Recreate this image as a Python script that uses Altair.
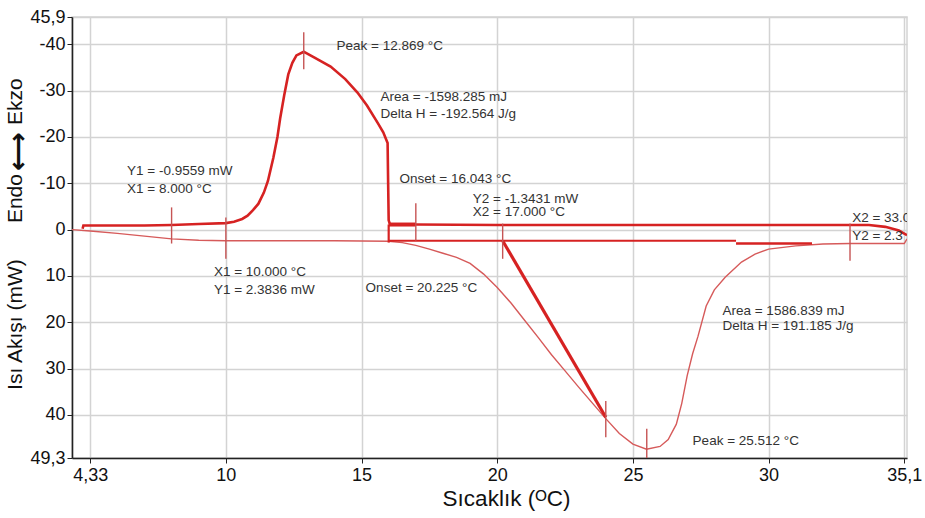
import altair as alt
import pandas as pd

FONT = "Liberation Sans, Arial, DejaVu Sans, sans-serif"

# ---- cooling run (thick curve) ----
cool_x = [35.1, 34.8, 34.3, 33.7, 30.0, 25.0, 20.0, 17.0, 16.05, 16.0, 15.98, 15.96,
          15.8, 15.6, 15.2, 14.85, 14.4, 13.86, 13.3, 13.0, 12.87, 12.6, 12.45, 12.3,
          12.15, 12.0, 11.9, 11.75, 11.55, 11.4, 11.2, 11.0, 10.8, 10.6, 10.3, 10.0,
          9.0, 8.0, 7.0, 6.0, 5.0, 4.75, 4.72]
cool_y = [1.2, 0.2, -0.6, -1.0, -1.0, -1.0, -1.0, -1.1, -1.1, -2.0, -10.0, -18.7,
          -21.0, -23.0, -26.8, -29.6, -32.5, -35.2, -37.0, -38.0, -38.4, -37.6, -36.0, -33.5,
          -29.0, -24.0, -20.0, -15.5, -10.5, -8.0, -5.6, -4.2, -3.0, -2.3, -1.7, -1.4,
          -1.2, -1.0, -0.9, -0.9, -0.9, -0.9, -0.2]

# ---- heating run (thin curve) ----
heat_x = [4.33, 5.0, 6.0, 7.0, 8.0, 9.0, 10.0, 12.0, 14.0, 16.0, 16.5, 17.0, 17.5, 18.0,
          18.5, 19.0, 19.5, 20.0, 20.5, 21.0, 21.5, 22.0, 22.5, 23.0, 23.5, 24.0, 24.5,
          25.0, 25.5, 26.0, 26.3, 26.6, 26.8, 27.0, 27.2, 27.4, 27.7, 28.0, 28.4, 29.0,
          29.5, 30.0, 31.0, 32.0, 33.0, 34.0, 35.0, 35.1]
heat_y = [0.0, 0.3, 0.8, 1.4, 2.0, 2.3, 2.4, 2.4, 2.4, 2.5, 2.8, 3.4, 4.2, 5.1,
          6.0, 7.3, 9.6, 12.5, 15.8, 19.5, 23.2, 27.0, 30.5, 34.0, 37.4, 40.8, 44.0,
          46.3, 47.4, 46.8, 45.3, 42.0, 37.5, 31.5, 26.8, 23.0, 16.5, 13.0, 10.3, 7.0,
          5.3, 4.2, 3.5, 3.1, 3.0, 3.0, 3.0, 2.0]

# ---- analysis lines (baselines, tangent) ----
seg_x1 = [16.0, 16.0, 16.0, 28.8, 20.2]
seg_x2 = [17.0, 16.0, 28.8, 31.6, 24.0]
seg_y1 = [-1.1, -1.1, 2.4, 3.0, 2.4]
seg_y2 = [-1.1, 2.8, 2.4, 3.0, 40.5]
seg_w = [4.0, 2.2, 2.0, 2.6, 3.2]

# ---- marker ticks ----
tick_x = [8.0, 10.0, 12.87, 17.0, 20.2, 24.0, 25.51, 33.0]
tick_lo = [-4.8, -2.6, -42.6, -5.7, -1.3, 37.0, 43.0, -1.3]
tick_hi = [3.0, 6.3, -34.6, 2.4, 6.3, 44.8, 49.3, 6.7]

# ---- annotation texts ----
ann_text = ["Peak = 12.869 °C", "Area = -1598.285 mJ", "Delta H = -192.564 J/g",
            "Y1 = -0.9559 mW", "X1 = 8.000 °C", "Onset = 16.043 °C",
            "Y2 = -1.3431 mW", "X2 = 17.000 °C", "X2 = 33.000 °C", "Y2 = 2.3",
            "X1 = 10.000 °C", "Y1 = 2.3836 mW", "Onset = 20.225 °C",
            "Area = 1586.839 mJ", "Delta H = 191.185 J/g", "Peak = 25.512 °C"]
ann_x = [14.08, 15.7, 15.7, 6.36, 6.36, 16.4, 19.1, 19.1, 33.08, 33.08,
         9.56, 9.56, 15.15, 28.3, 28.3, 27.2]
ann_y = [-39.6, -28.7, -25.0, -12.6, -8.7, -10.9, -6.7, -3.7, -2.6, 1.3,
         9.1, 13.0, 12.6, 17.6, 20.9, 45.6]

# ---- y-axis title pieces ----
yt_text = ["Isı Akışı (mW)", "Endo", "Ekzo"]
yt_pos = [20.5, -6.7, -27.6]
arrow_text = ["⟷"]
arrow_pos = [-16.9]

x_ticks = [5, 10, 15, 20, 25, 30, 35]
y_ticks = [-45.9, -40, -30, -20, -10, 0, 10, 20, 30, 40, 49.3]

cool = pd.DataFrame({"x": cool_x, "y": cool_y, "i": range(len(cool_x))})
heat = pd.DataFrame({"x": heat_x, "y": heat_y, "i": range(len(heat_x))})
segs = pd.DataFrame({"x": seg_x1, "x2": seg_x2, "y": seg_y1, "y2": seg_y2, "w": seg_w})
ticks = pd.DataFrame({"x": tick_x, "y": tick_lo, "y2": tick_hi})
ann = pd.DataFrame({"t": ann_text, "x": ann_x, "y": ann_y})
ytitle = pd.DataFrame({"t": yt_text, "y": yt_pos})
arrow = pd.DataFrame({"t": arrow_text, "y": arrow_pos})

xs = alt.Scale(domain=[4.33, 35.1], nice=False, zero=False)
ys = alt.Scale(domain=[-45.9, 49.3], nice=False, zero=False, reverse=True)

xaxis = alt.Axis(values=x_ticks, title="Sıcaklık (ᴼC)",
                 labelExpr="datum.value == 5 ? '4,33' : datum.value == 35 ? '35,1' : '' + datum.value",
                 labelFontSize=18, labelColor="#111", labelPadding=3, labelFlush=False,
                 titleFontSize=22.5, titleFontWeight="normal", titleColor="#111",
                 titlePadding=3, titleX=434, titleAlign="center", titleAnchor="start",
                 grid=True, gridColor="#d3d3d3", gridWidth=1.5,
                 domainColor="#222", domainWidth=1.6, tickColor="#222", tickSize=5,
                 labelFont=FONT, titleFont=FONT)
yaxis = alt.Axis(values=y_ticks, title=None,
                 labelExpr="datum.value < -45 ? '45,9' : datum.value > 49 ? '49,3' : '' + datum.value",
                 labelFontSize=18, labelColor="#111", labelPadding=2,
                 grid=True, gridColor="#d3d3d3", gridWidth=1.5,
                 domainColor="#222", domainWidth=1.6, tickColor="#222", tickSize=5,
                 labelFont=FONT)

base_x = alt.X("x:Q", scale=xs, axis=xaxis)
base_y = alt.Y("y:Q", scale=ys, axis=yaxis)

heat_line = alt.Chart(heat).mark_line(color="#d65a5a", strokeWidth=1.4, clip=True).encode(
    x=base_x, y=base_y, order="i:Q")
cool_line = alt.Chart(cool).mark_line(color="#d62222", strokeWidth=2.6, clip=True).encode(
    x=alt.X("x:Q", scale=xs), y=alt.Y("y:Q", scale=ys), order="i:Q")
seg_layer = alt.Chart(segs).mark_rule(color="#d62222", clip=True).encode(
    x=alt.X("x:Q", scale=xs), x2="x2:Q", y=alt.Y("y:Q", scale=ys), y2="y2:Q",
    size=alt.Size("w:Q", scale=None, legend=None))
tick_layer = alt.Chart(ticks).mark_rule(color="#c65454", strokeWidth=1.4, clip=True).encode(
    x=alt.X("x:Q", scale=xs), y=alt.Y("y:Q", scale=ys), y2="y2:Q")
ann_layer = alt.Chart(ann).mark_text(align="left", baseline="middle", fontSize=13.5,
                                     color="#333", font=FONT, clip=True).encode(
    x=alt.X("x:Q", scale=xs), y=alt.Y("y:Q", scale=ys), text="t:N")
ytitle_layer = alt.Chart(ytitle).mark_text(angle=270, align="center", baseline="middle",
                                           fontSize=21, color="#111", font=FONT).encode(
    x=alt.value(-56), y=alt.Y("y:Q", scale=ys), text="t:N")
arrow_layer = alt.Chart(arrow).mark_text(angle=270, align="center", baseline="middle",
                                         fontSize=27, fontWeight="bold", color="#111",
                                         font="DejaVu Sans").encode(
    x=alt.value(-53), y=alt.Y("y:Q", scale=ys), text="t:N")

chart = alt.layer(heat_line, cool_line, seg_layer, tick_layer, ann_layer,
                  ytitle_layer, arrow_layer).properties(
    width=835, height=441,
    autosize=alt.AutoSizeParams(type="none"),
    padding={"left": 72, "top": 17, "right": 18, "bottom": 60},
    background="white",
).configure_view(stroke="#d3d3d3", strokeWidth=1.5)

chart.save("out.html", embed_options={"renderer": "svg", "actions": False})
